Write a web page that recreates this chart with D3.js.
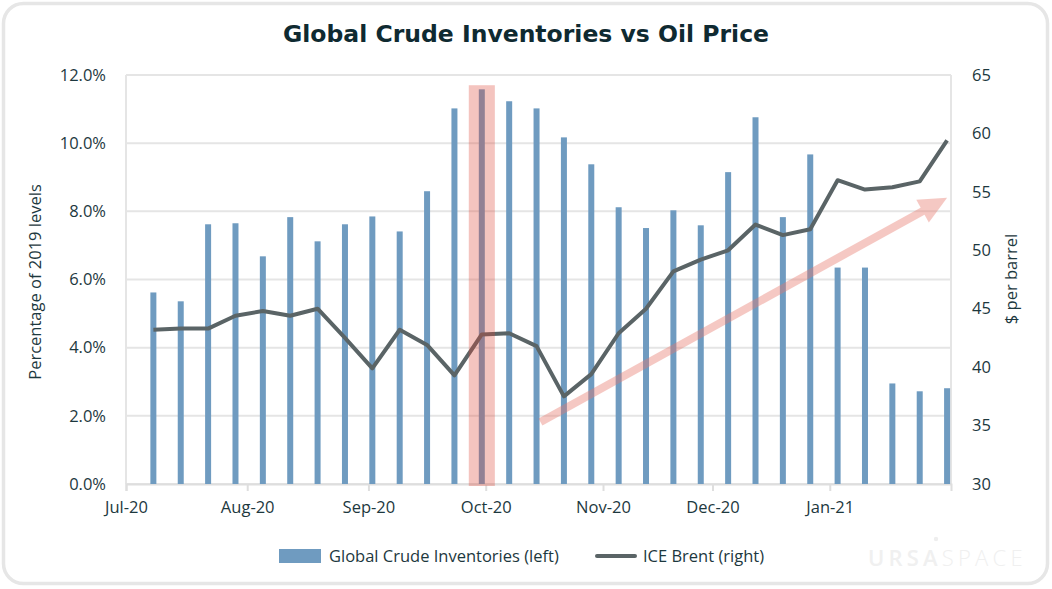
<!DOCTYPE html>
<html>
<head>
<meta charset="utf-8">
<script src="https://cdn.jsdelivr.net/npm/d3@7"></script>
<style>
  body { margin: 0; background: #fff; }
  svg text { font-family: "Open Sans", sans-serif; fill: #1d383e; }
</style>
</head>
<body>
<svg id="chart" width="1052" height="589"></svg>
<script>
// weekly data, first week Jul 8 2020
const primera_semana = new Date(2020, 6, 8);
const inventarios = [5.62, 5.36, 7.62, 7.65, 6.68, 7.83, 7.12, 7.62, 7.85, 7.41,
    8.59, 11.02, 11.58, 11.23, 11.02, 10.17, 9.38, 8.12, 7.51, 8.03,
    7.59, 9.15, 10.76, 7.83, 9.67, 6.35, 6.35, 2.95, 2.72, 2.81];
const brent = [43.2, 43.3, 43.3, 44.4, 44.8, 44.4, 45.0, 42.5, 39.9, 43.2,
    41.9, 39.3, 42.8, 42.9, 41.8, 37.5, 39.4, 42.9, 45.0, 48.2,
    49.2, 50.0, 52.2, 51.3, 51.8, 56.0, 55.2, 55.4, 55.9, 59.4];
const fechas = inventarios.map((d, i) => d3.timeDay.offset(primera_semana, 7 * i));

const ticks_izq = [0, 2, 4, 6, 8, 10, 12];
const ticks_der = [30, 35, 40, 45, 50, 55, 60, 65];
const ticks_x = ['2020-07-01', '2020-08-01', '2020-09-01', '2020-10-01', '2020-10-31', '2020-11-28', '2020-12-28'];
const etiquetas_x = ['Jul-20', 'Aug-20', 'Sep-20', 'Oct-20', 'Nov-20', 'Dec-20', 'Jan-21'];

const resaltado = new Date(2020, 8, 30);
const flecha = [{fecha: new Date(2020, 9, 15), valor: 35.3}, {fecha: new Date(2021, 0, 27), valor: 54.5}];

const margen = {left: 126, right: 951, top: 75, bottom: 484};
const color_barra = '#6f9bc0';
const color_linea = '#5a6466';
const color_grilla = '#e5e5e5';
const tam_letra = '16.5px';

const svg = d3.select('#chart');

// card
svg.append('rect')
    .attr('x', 3.5).attr('y', 3.5)
    .attr('width', 1044).attr('height', 580)
    .attr('rx', 20)
    .attr('fill', '#fff')
    .attr('stroke', '#e6e6e6')
    .attr('stroke-width', 3.5);

svg.append('text')
    .attr('x', 526).attr('y', 42)
    .attr('text-anchor', 'middle')
    .style('font-family', '"DejaVu Sans", sans-serif')
    .style('font-weight', 700)
    .style('font-size', '23.5px')
    .style('fill', '#0f2a31')
    .text('Global Crude Inventories vs Oil Price');

const x = d3.scaleTime()
    .domain([new Date(2020, 6, 1), new Date(2021, 0, 28)])
    .range([margen.left, margen.right]);
const yIzq = d3.scaleLinear().domain([0, 12]).range([margen.bottom, margen.top]);
const yDer = d3.scaleLinear().domain([30, 65]).range([margen.bottom, margen.top]);

// grid
svg.append('g').selectAll('line')
    .data(ticks_izq)
    .join('line')
    .attr('x1', margen.left).attr('x2', margen.right)
    .attr('y1', d => yIzq(d)).attr('y2', d => yIzq(d))
    .attr('stroke', color_grilla).attr('stroke-width', 2);

svg.append('g').selectAll('line')
    .data([margen.left, margen.right])
    .join('line')
    .attr('x1', d => d).attr('x2', d => d)
    .attr('y1', margen.top).attr('y2', margen.bottom)
    .attr('stroke', color_grilla).attr('stroke-width', 2);

// x axis
const ejeX = d3.axisBottom(x)
    .tickValues(ticks_x.map(d => d3.timeParse('%Y-%m-%d')(d)))
    .tickFormat((d, i) => etiquetas_x[i])
    .tickSize(7)
    .tickPadding(10);
const gX = svg.append('g')
    .attr('transform', `translate(0,${margen.bottom})`)
    .call(ejeX);
gX.select('.domain').attr('stroke', '#dedede').attr('stroke-width', 2);
gX.selectAll('.tick line').attr('stroke', '#dedede').attr('stroke-width', 2);
gX.selectAll('.tick text').style('font-size', tam_letra).attr('fill', '#1d383e');

const ejeIzq = d3.axisLeft(yIzq)
    .tickValues(ticks_izq)
    .tickFormat(d => d.toFixed(1) + '%')
    .tickSize(0).tickPadding(20);
const gI = svg.append('g')
    .attr('transform', `translate(${margen.left},0)`)
    .call(ejeIzq);
gI.select('.domain').remove();
gI.selectAll('.tick text').style('font-size', tam_letra).attr('fill', '#1d383e');

const ejeDer = d3.axisRight(yDer)
    .tickValues(ticks_der)
    .tickSize(0).tickPadding(21);
const gD = svg.append('g')
    .attr('transform', `translate(${margen.right},0)`)
    .call(ejeDer);
gD.select('.domain').remove();
gD.selectAll('.tick text').style('font-size', tam_letra).attr('fill', '#1d383e');

svg.append('text')
    .attr('transform', `translate(41,282) rotate(-90)`)
    .attr('text-anchor', 'middle')
    .style('font-size', tam_letra)
    .text('Percentage of 2019 levels');

svg.append('text')
    .attr('transform', `translate(1017,279) rotate(-90)`)
    .attr('text-anchor', 'middle')
    .style('font-size', tam_letra)
    .text('$ per barrel');

// bars
const ancho_barra = 6;
svg.append('g').selectAll('rect')
    .data(inventarios)
    .join('rect')
    .attr('x', (d, i) => x(fechas[i]) - ancho_barra / 2)
    .attr('y', d => yIzq(d))
    .attr('width', ancho_barra)
    .attr('height', d => yIzq(0) - yIzq(d))
    .attr('fill', color_barra);

// line
const linea = d3.line()
    .x((d, i) => x(fechas[i]))
    .y(d => yDer(d));
svg.append('path')
    .datum(brent)
    .attr('d', linea)
    .attr('fill', 'none')
    .attr('stroke', color_linea)
    .attr('stroke-width', 4)
    .attr('stroke-linejoin', 'round');

// arrow
const p0 = [x(flecha[0].fecha), yDer(flecha[0].valor)];
const p1 = [x(flecha[1].fecha), yDer(flecha[1].valor)];
const dx = p1[0] - p0[0], dy = p1[1] - p0[1];
const largo = Math.hypot(dx, dy);
const ux = dx / largo, uy = dy / largo;
const cabeza = 28, media = 13;
const base = [p1[0] - ux * cabeza, p1[1] - uy * cabeza];
const gFlecha = svg.append('g').attr('opacity', 0.4);
gFlecha.append('line')
    .attr('x1', p0[0]).attr('y1', p0[1])
    .attr('x2', base[0] + ux * 2).attr('y2', base[1] + uy * 2)
    .attr('stroke', '#e8786c').attr('stroke-width', 8);
gFlecha.append('path')
    .attr('d', `M${p1[0]},${p1[1]} L${base[0] - uy * media},${base[1] + ux * media} L${base[0] + uy * media},${base[1] - ux * media} Z`)
    .attr('fill', '#e8786c');

// highlight
svg.append('rect')
    .attr('x', x(d3.timeHour.offset(resaltado, -80)))
    .attr('y', yIzq(11.7))
    .attr('width', x(d3.timeHour.offset(resaltado, 80)) - x(d3.timeHour.offset(resaltado, -80)))
    .attr('height', yIzq(0) - yIzq(11.7) + 2)
    .attr('fill', 'rgba(222,70,56,0.32)');

// legend
svg.append('rect')
    .attr('x', 279).attr('y', 549).attr('width', 42).attr('height', 14)
    .attr('fill', color_barra);
svg.append('text')
    .attr('x', 329).attr('y', 562)
    .style('font-size', tam_letra)
    .text('Global Crude Inventories (left)');
svg.append('line')
    .attr('x1', 597).attr('x2', 635).attr('y1', 556).attr('y2', 556)
    .attr('stroke', color_linea).attr('stroke-width', 4).attr('stroke-linecap', 'round');
svg.append('text')
    .attr('x', 643).attr('y', 562)
    .style('font-size', tam_letra)
    .text('ICE Brent (right)');

// watermark
const marca = svg.append('text')
    .attr('x', 868).attr('y', 566)
    .style('font-size', '22px')
    .style('letter-spacing', '4.2px');
marca.append('tspan').style('font-weight', 600).style('fill', '#f0f0f0').text('URSA');
marca.append('tspan').style('font-weight', 300).style('fill', '#f0f0f0').text('SPACE');
svg.append('circle').attr('cx', 936).attr('cy', 539).attr('r', 2.2).attr('fill', '#eeeeee');
</script>
</body>
</html>
